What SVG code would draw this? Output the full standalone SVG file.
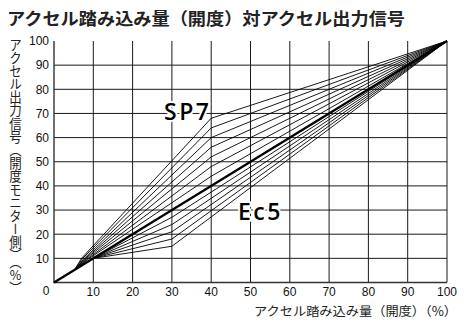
<svg xmlns="http://www.w3.org/2000/svg" width="475" height="322" viewBox="0 0 475 322">
<style>
.grid{stroke:#1a1a1a;stroke-width:1;fill:none}
.axis{stroke:#333;stroke-width:1.4;fill:none}
.thin{stroke:#000;stroke-width:0.9;fill:none;vector-effect:non-scaling-stroke;stroke-linejoin:round}
.thick{stroke:#000;stroke-width:2.3;fill:none;vector-effect:non-scaling-stroke}
.num{font-family:"Liberation Sans",Arial,sans-serif;font-size:12px;fill:#111}
.jp{font-family:"Noto Sans CJK JP",sans-serif;fill:#222}
.tag{font-family:"Open Sans","DejaVu Sans",sans-serif;font-weight:600;font-size:23px;fill:#000;stroke:#fff;stroke-width:4;paint-order:stroke;stroke-linejoin:round;letter-spacing:2.5px}
</style>
<rect width="475" height="322" fill="#fff"/>
<g id="title"><text class="jp" x="7" y="25" font-size="17" font-weight="700" textLength="398" lengthAdjust="spacingAndGlyphs">アクセル踏み込み量（開度）対アクセル出力信号</text></g>
<g id="grid">
<path class="grid" d="M93.3 41V282.5M132.6 41V282.5M171.9 41V282.5M211.2 41V282.5M250.5 41V282.5M289.8 41V282.5M329.1 41V282.5M368.4 41V282.5M407.7 41V282.5M447 41V282.5"/>
<path class="grid" d="M54 65.15H447M54 89.3H447M54 113.45H447M54 137.6H447M54 161.75H447M54 185.9H447M54 210.05H447M54 234.2H447M54 258.35H447"/>
<path class="axis" d="M54 41V282.5H447"/>
</g>
<g id="y-ticks" class="num" text-anchor="end">
<text x="49" y="45.3">100</text><text x="49" y="69.4">90</text><text x="49" y="93.6">80</text><text x="49" y="117.7">70</text><text x="49" y="141.9">60</text><text x="49" y="166">50</text><text x="49" y="190.2">40</text><text x="49" y="214.3">30</text><text x="49" y="238.5">20</text><text x="49" y="262.6">10</text>
</g>
<g id="x-ticks" class="num" text-anchor="middle">
<text x="46" y="294.5">0</text><text x="93.3" y="295.5">10</text><text x="132.6" y="295.5">20</text><text x="171.9" y="295.5">30</text><text x="211.2" y="295.5">40</text><text x="250.5" y="295.5">50</text><text x="289.8" y="295.5">60</text><text x="329.1" y="295.5">70</text><text x="368.4" y="295.5">80</text><text x="407.7" y="295.5">90</text><text x="447" y="295.5">100</text>
</g>
<g id="connectors" transform="translate(54 282.5) scale(3.93 -2.415)">
<polyline class="thin" points="0,0 5.2,5.2 9,10 40,44 100,100"/>
<polyline class="thin" points="0,0 5.2,5.2 8.7,10 40,48 100,100"/>
<polyline class="thin" points="0,0 5.2,5.2 8.3,10 40,52 100,100"/>
<polyline class="thin" points="0,0 5.2,5.2 8,10 40,56 100,100"/>
<polyline class="thin" points="0,0 5.2,5.2 7.7,10 40,60 100,100"/>
<polyline class="thin" points="0,0 5.2,5.2 7.3,10 40,64 100,100"/>
<polyline class="thin" points="0,0 5.2,5.2 7,10 40,68 100,100"/>
<polyline class="thin" points="0,0 10,10 30,15 100,100"/>
<polyline class="thin" points="0,0 10,10 30,18 100,100"/>
<polyline class="thin" points="0,0 10,10 30,21 100,100"/>
<polyline class="thin" points="0,0 10,10 30,24 100,100"/>
<polyline class="thin" points="0,0 10,10 30,27 100,100"/>
<polyline class="thick" points="0,0 100,100"/>
</g>
<g id="label-sp7"><text class="tag" x="164" y="120">SP7</text></g>
<g id="label-ec5"><text class="tag" x="238" y="220">Ec5</text></g>
<g id="x-title"><text class="jp" x="254" y="315.5" font-size="12.5" textLength="203" lengthAdjust="spacingAndGlyphs">アクセル踏み込み量（開度）（%）</text></g>
<g id="y-title"><text class="jp" x="15.5" y="38" font-size="12.5" style="writing-mode:vertical-rl;text-orientation:upright" textLength="257" lengthAdjust="spacingAndGlyphs">アクセル出力信号（開度モニター側）（%）</text></g>
</svg>
